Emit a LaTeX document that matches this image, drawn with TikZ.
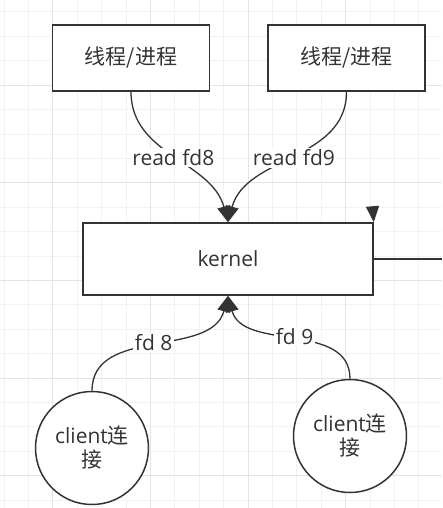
\documentclass[tikz,border=0pt]{standalone}
\usepackage{fontspec}
\setmainfont{Open Sans}
\newfontfamily\cjk{Noto Sans CJK SC}
\usetikzlibrary{arrows.meta}
\definecolor{ink}{HTML}{333333}
\definecolor{gridminor}{HTML}{F2F2F2}
\definecolor{gridmajor}{HTML}{E4E4E4}
\tikzstyle{every node}=[font=\fontsize{21}{24}\selectfont,text=ink]
\tikzstyle{proc}=[draw=ink,line width=1.5pt,fill=white,minimum width=157pt,minimum height=66pt,inner sep=0pt]
\tikzstyle{conn}=[circle,draw=ink,line width=1.5pt,fill=white,minimum size=113pt,inner sep=0pt,align=center]
\tikzstyle{lbl}=[fill=white,inner sep=1.5pt]
\tikzstyle{flow}=[color=ink,line width=1.3pt,-{Triangle[length=16pt,width=13pt]}]

\begin{document}
\begin{tikzpicture}[x=1pt,y=1pt]
\useasboundingbox (0,0) rectangle (442,-508);
\fill[white] (0,0) rectangle (442,-508);
\foreach \k in {0,...,18} \draw[gridminor,line width=1pt] ({4+24.4*\k},0) -- ({4+24.4*\k},-508);
\foreach \k in {0,...,20} \draw[gridminor,line width=1pt] (0,{-12-24.4*\k}) -- (442,{-12-24.4*\k});
\foreach \x in {52.8,150.4,248,345.6} \draw[gridmajor,line width=1pt] (\x,0) -- (\x,-508);
\foreach \y in {85.2,182.8,280.4,378,475.6} \draw[gridmajor,line width=1pt] (0,-\y) -- (442,-\y);

\node[proc]                                      (thrA)   at (131,-58)   {{\cjk 线程/进程}};
\node[proc]                                      (thrB)   at (346.5,-58) {{\cjk 线程/进程}};
\node[proc,minimum width=290pt,minimum height=72pt] (kernel) at (228,-259) {kernel};
\node[conn]                                      (cliA)   at (92,-448)   {client{\cjk 连}\\{\cjk 接}};
\node[conn]                                      (cliB)   at (350,-436)  {client{\cjk 连}\\{\cjk 接}};
\coordinate (outR) at (442,-259);
\coordinate (inR)  at (372.5,-206);

\path[flow]	(thrA.south)	edge [out=-90,in=105]	node[lbl] {read fd8}	(kernel.north)
		(thrB.south)	edge [out=-90,in=75]	node[lbl] {read fd9}	(kernel.north)
		(cliA.north)	edge [out=90,in=-105]	node[lbl] {fd 8}	(kernel.south)
		(cliB.north)	edge [out=90,in=-75]	node[lbl] {fd 9}	(kernel.south)
		(inR)		edge					(kernel.north east);
\draw[ink,line width=1.3pt] (kernel.east) -- (outR);
\end{tikzpicture}
\end{document}
